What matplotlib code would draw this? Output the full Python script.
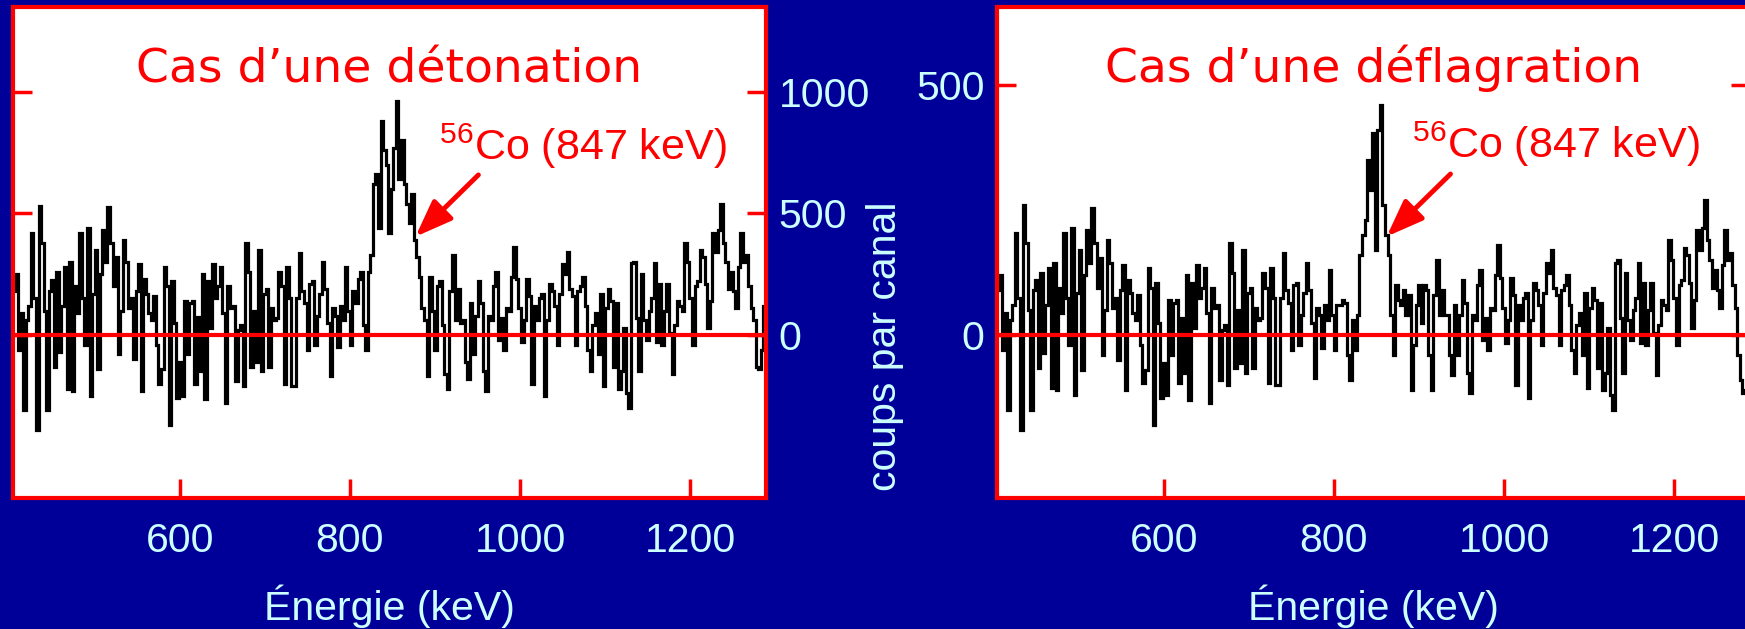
import matplotlib
matplotlib.use('Agg')
import matplotlib.pyplot as plt
import numpy as np

# spectra: 3 keV channels starting at 404 keV
CHANNEL_START = 404
CHANNEL_WIDTH = 3

detonation_counts = [
    180, 250, -60, 90, -310, 60, 120, 420, 150, -390,
    530, 380, 100, -310, 180, 225, -130, 260, -70, 120,
    280, -220, 300, -230, 200, 90, 420, 150, -40, 440,
    -250, 170, 350, -140, 250, 430, 300, 525, 380, 200,
    320, -80, 100, 390, 300, 110, 150, -100, 180, 290,
    -230, 230, 170, 90, 60, 160, -40, -200, -140, 280,
    200, -370, 220, 50, -260, -110, -250, 140, -80, 130,
    140, -200, 75, -150, 250, -265, 220, 30, 290, 150,
    200, 280, 90, -280, 200, 110, 120, -190, 20, 40,
    -210, 380, 260, -130, 100, -110, 350, -150, 170, 190,
    -130, 110, 60, 70, 260, 200, -200, 280, 150, -210,
    -210, 150, 335, 180, 130, -60, 210, 220, -40, 80,
    170, 300, 190, 50, -170, 110, 80, -50, 120, 60,
    280, 100, -40, 180, 130, 230, 260, 40, -60, 260,
    330, 620, 660, 440, 880, 760, 700, 420, 600, 770,
    960, 640, 800, 620, 540, 460, 580, 390, 320, 240,
    110, 60, -170, 240, 100, -60, 200, 220, 40, -160,
    -220, 180, 330, 60, 190, 50, 60, -110, -180, 130,
    -80, 80, 220, 130, -150, -230, 80, 60, 200, 260,
    -20, 70, -60, 110, 100, 240, 360, 230, 110, -30,
    60, 230, 160, -200, 120, 60, 150, 170, -250, 60,
    210, 180, 120, -40, 170, 290, 250, 340, 190, 160,
    -40, 180, 200, 240, 120, -60, -150, 40, 90, -80,
    170, -210, 110, 190, 140, -130, 130, -220, -150, 30,
    -240, -300, 295, 300, 70, -150, 250, 60, -20, 100,
    150, 295, -30, 210, -40, 100, 210, 10, -160, 40,
    140, 120, 100, 380, 300, 150, -40, 200, 220, 350,
    320, 210, 30, 140, 420, 340, 430, 540, 380, 300,
    190, 260, 180, 110, 280, 420, 300, 330, 200, 110,
    60, -130, -140, -60, 120,
]

deflagration_counts = [
    90, 120, -30, 45, -150, 30, 60, 205, 75, -190,
    260, 185, 50, -150, 90, 110, -65, 125, -35, 60,
    135, -105, 145, -110, 95, 45, 205, 75, -20, 215,
    -120, 85, 170, -70, 120, 210, 145, 255, 185, 95,
    155, -40, 50, 190, 145, 55, 75, -50, 90, 140,
    -110, 110, 85, 45, 30, 80, -20, -95, -70, 135,
    95, -180, 105, 25, -125, -55, -120, 70, -40, 65,
    70, -95, 35, -75, 120, -130, 105, 15, 140, 75,
    95, 135, 45, -135, 95, 55, 60, -90, 10, 20,
    -100, 185, 125, -65, 50, -55, 170, -75, 85, 95,
    -65, 55, 30, 35, 125, 95, -95, 135, 75, -100,
    -100, 75, 165, 90, 65, -30, 100, 105, -20, 40,
    85, 145, 90, 25, -85, 55, 40, -25, 60, 30,
    130, 40, -30, 60, 60, 70, 65, -40, -90, 30,
    -30, 40, 160, 200, 230, 350, 290, 405, 170, 410,
    460, 260, 200, 160, 40, -40, 100, 70, 60, 90,
    40, 80, -110, -20, 60, 100, 25, 100, 90, -40,
    -110, 80, 150, 40, 90, 40, 40, -40, -80, 60,
    -40, 40, 110, 65, -75, -115, 40, 30, 100, 130,
    -10, 35, -30, 55, 50, 120, 180, 115, 55, -15,
    30, 115, 80, -100, 60, 30, 75, 85, -125, 30,
    105, 90, 60, -20, 85, 145, 125, 170, 95, 80,
    -20, 90, 100, 120, 60, -30, -75, 20, 45, -40,
    85, -105, 55, 95, 70, -65, 65, -110, -75, 15,
    -120, -150, 145, 150, 35, -75, 125, 30, -10, 50,
    75, 145, -15, 105, -20, 50, 105, 5, -80, 20,
    70, 60, 50, 190, 150, 75, -20, 100, 110, 175,
    160, 105, 15, 70, 210, 170, 215, 270, 190, 150,
    95, 130, 90, 55, 140, 210, 150, 165, 100, 55,
    -40, -90, -115, -110, -75,
]

energy_ticks = [600, 800, 1000, 1200]
detonation_ticks = [0, 500, 1000]
deflagration_ticks = [0, 500]
titles = ['Cas d\u2019une détonation', 'Cas d\u2019une déflagration']
line_label = r'$\mathregular{^{56}}$Co (847 keV)'

BG = '#000099'
PALE = '#ccffff'
RED = '#ff0000'

plt.rcParams['font.family'] = ['Liberation Sans', 'DejaVu Sans']
plt.rcParams['mathtext.fontset'] = 'custom'
plt.rcParams['mathtext.rm'] = 'Liberation Sans'

W, H = 1745, 629
fig = plt.figure(figsize=(W / 100, H / 100), dpi=100, facecolor=BG)

edges = CHANNEL_START + CHANNEL_WIDTH * np.arange(len(detonation_counts) + 1)


def draw_panel(left_px, counts, ylim, yticks, title, label_side,
               text_pos, arrow_tail, arrow_tip):
    ax = fig.add_axes([left_px / W, 131 / H, 753 / W, 491 / H])
    ax.set_facecolor('white')
    ax.stairs(counts, edges, color='black', lw=2.3, baseline=None)
    ax.axhline(0, color=RED, lw=3, zorder=3)
    ax.set_xlim(404, 1289)
    ax.set_ylim(*ylim)

    for s in ax.spines.values():
        s.set_color(RED)
        s.set_linewidth(3)

    ax.set_xticks(energy_ticks)
    ax.set_yticks(yticks)
    ax.tick_params(axis='x', direction='in', length=14, width=2.5,
                   color=RED, labelcolor=PALE, labelsize=29.5, pad=17)
    ax.tick_params(axis='y', direction='in', length=14, width=2.5,
                   color=RED, labelcolor=PALE, labelsize=29.5, pad=9,
                   left=True, right=True,
                   labelleft=(label_side == 'left'),
                   labelright=(label_side == 'right'))

    ax.text(0.5, 0.847, title, transform=ax.transAxes, ha='center',
            va='baseline', color=RED, fontsize=34, family='DejaVu Sans')
    ax.text(*text_pos, line_label, color=RED, fontsize=31,
            ha='left', va='baseline')
    ax.annotate('', xy=arrow_tip, xytext=arrow_tail,
                arrowprops=dict(arrowstyle='-|>,head_length=0.45,head_width=0.17',
                                color=RED, lw=3.5, mutation_scale=50,
                                shrinkA=0, shrinkB=0))

    cx = (left_px + 376) / W
    fig.text(cx, 1 - 620 / H, 'Énergie (keV)', ha='center', va='baseline',
             color=PALE, fontsize=29.5)
    return ax


draw_panel(13, detonation_counts, (-670, 1348), detonation_ticks, titles[0],
           'right', (905, 719), (951, 658), (877, 404))
draw_panel(997, deflagration_counts, (-326, 656), deflagration_ticks, titles[1],
           'left', (892, 354), (937, 322), (862, 197))

fig.text(885 / W, 1 - 346 / H, 'coups par canal', rotation=90, ha='center',
         va='center', color=PALE, fontsize=29.5)

fig.savefig('out.png', dpi=100, facecolor=BG)
